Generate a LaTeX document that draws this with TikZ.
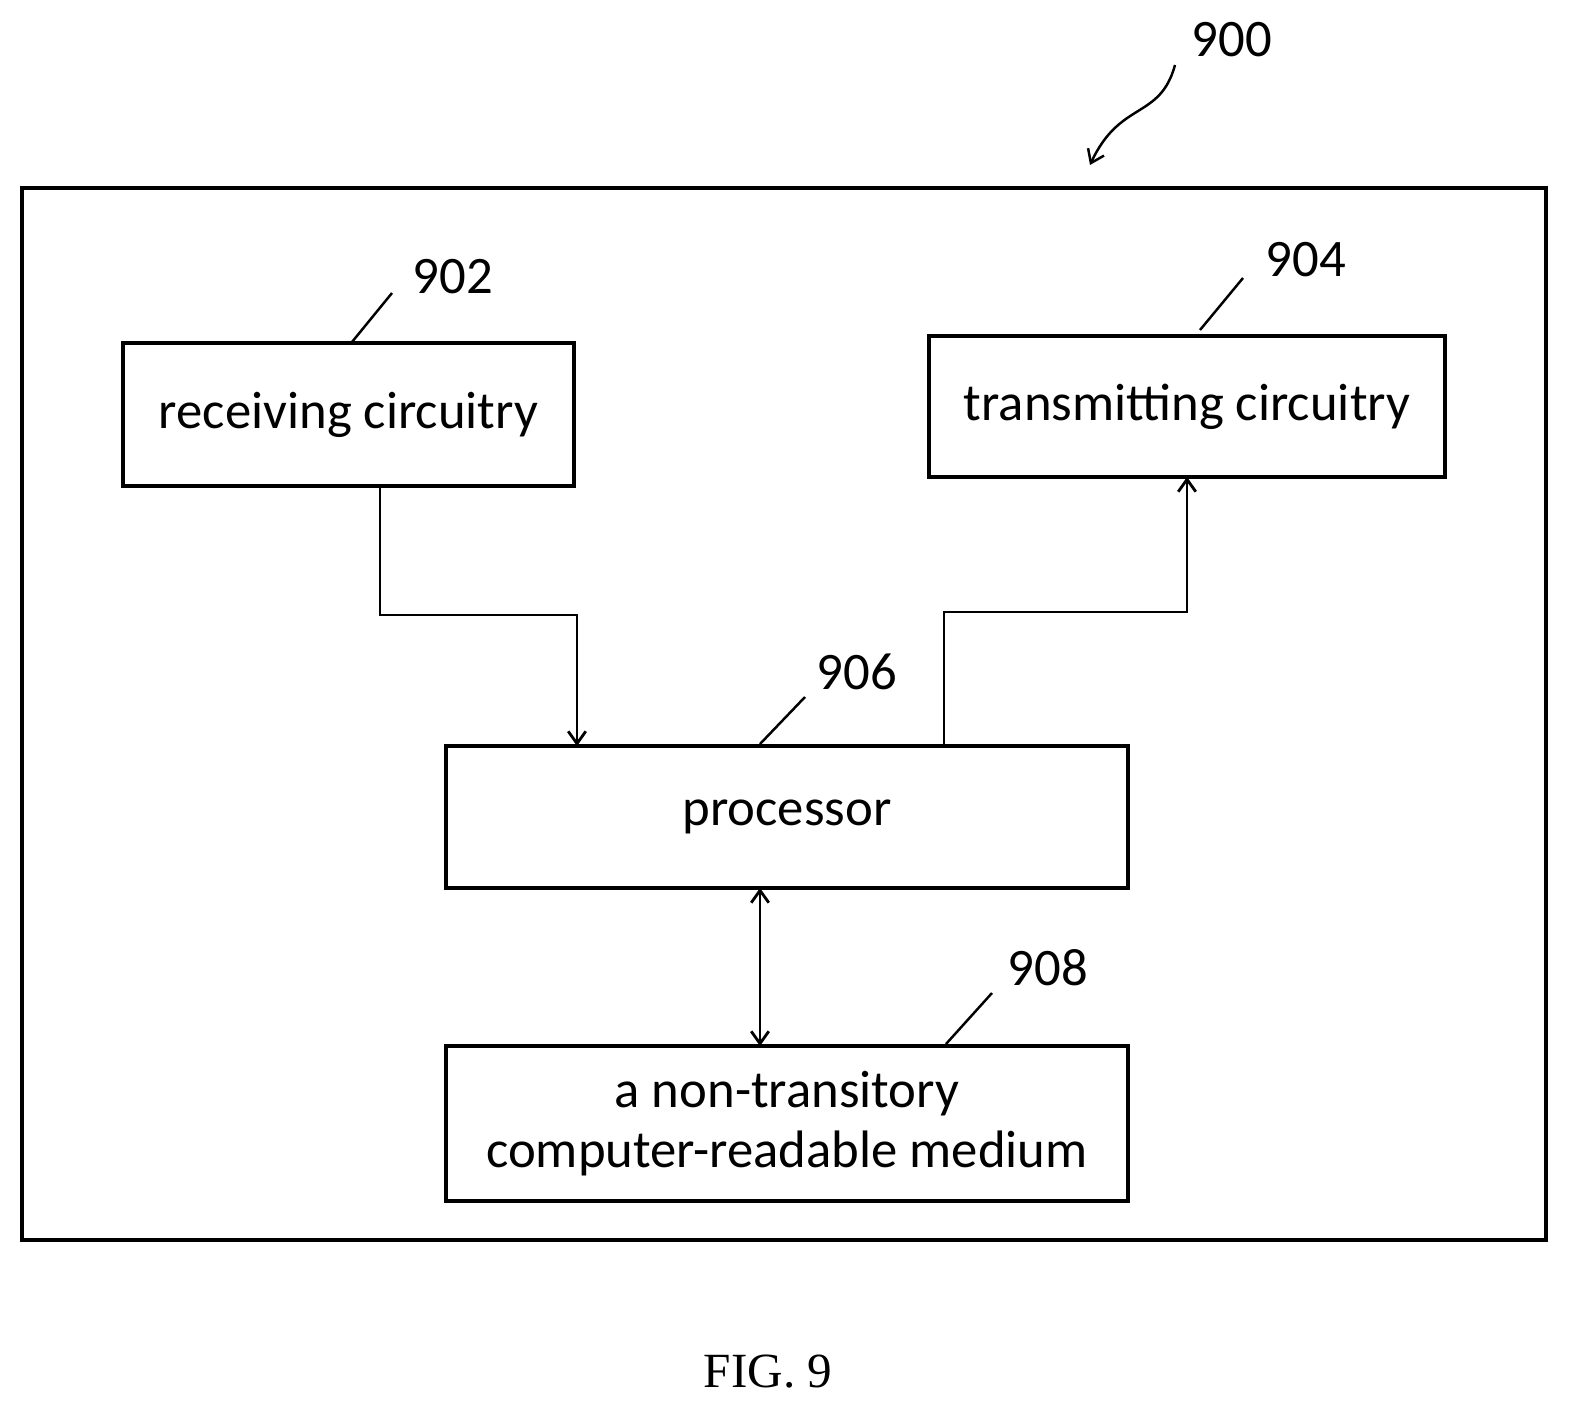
\documentclass[tikz,border=0pt]{standalone}
\usepackage{fontspec}
\setmainfont{Carlito}
\newfontfamily\figfont{Liberation Serif}
\usetikzlibrary{arrows.meta,decorations.pathmorphing}

\tikzset{
  blk/.style={draw, line width=1.8pt, inner sep=0pt, align=center, font=\fontsize{30}{34}\selectfont},
  num/.style={font=\fontsize{30}{32}\selectfont},
  lead/.style={line width=1.4pt},
  flow/.style={line width=1.6pt, -{Straight Barb[length=7pt,width=10pt]}}
}

\begin{document}
\begin{tikzpicture}[x=0.02cm, y=-0.02cm]
\useasboundingbox (0,0) rectangle (1579,1420);
\draw[line width=2.6pt] (22,188) rectangle (1546,1240); % frame 900

\node[blk, minimum width=451*0.02cm, minimum height=143*0.02cm] (rx) at (348.5,414.5) {receiving circuitry};
\node[blk, minimum width=516*0.02cm, minimum height=141*0.02cm] (tx) at (1187,406.5) {transmitting circuitry};
\node[blk, minimum width=682*0.02cm, minimum height=142*0.02cm] (cpu) at (787,817) {processor};
\node[blk, minimum width=682*0.02cm, minimum height=155*0.02cm] (mem) at (787,1123.5) {a non-transitory\\computer-readable medium};

% reference numerals
\node[num] (n900) at (1232,40) {900};
\node[num] (n902) at (453,277) {902};
\node[num] (n904) at (1306,260) {904};
\node[num] (n906) at (857,672) {906};
\node[num] (n908) at (1048,968) {908};
\draw[lead] (352,342) -- (392,293);
\draw[lead] (1200,330) -- (1243,278);
\draw[lead] (760,744) -- (805,697);
\draw[lead] (946,1044) -- (992,993);
\draw[lead, -{Straight Barb[length=7pt,width=10pt]}] (1175,65) .. controls (1160,120) and (1120,100) .. (1090,165);

% connectors
\coordinate (rxout) at (380,486);
\coordinate (cpuin) at (577,746);
\coordinate (cpuout) at (944,746);
\coordinate (txin) at (1187,477);
\draw[flow] (rxout) -- (380,615) -- (577,615) -- (cpuin);
\draw[flow] (cpuout) -- (944,612) -- (1187,612) -- (txin);
\draw[line width=1.6pt, {Straight Barb[length=7pt,width=10pt]}-{Straight Barb[length=7pt,width=10pt]}] (760,888) -- (760,1046);

\node[font=\figfont\fontsize{28}{30}\selectfont] (fig) at (768,1372) {FIG. 9};
\end{tikzpicture}
\end{document}
